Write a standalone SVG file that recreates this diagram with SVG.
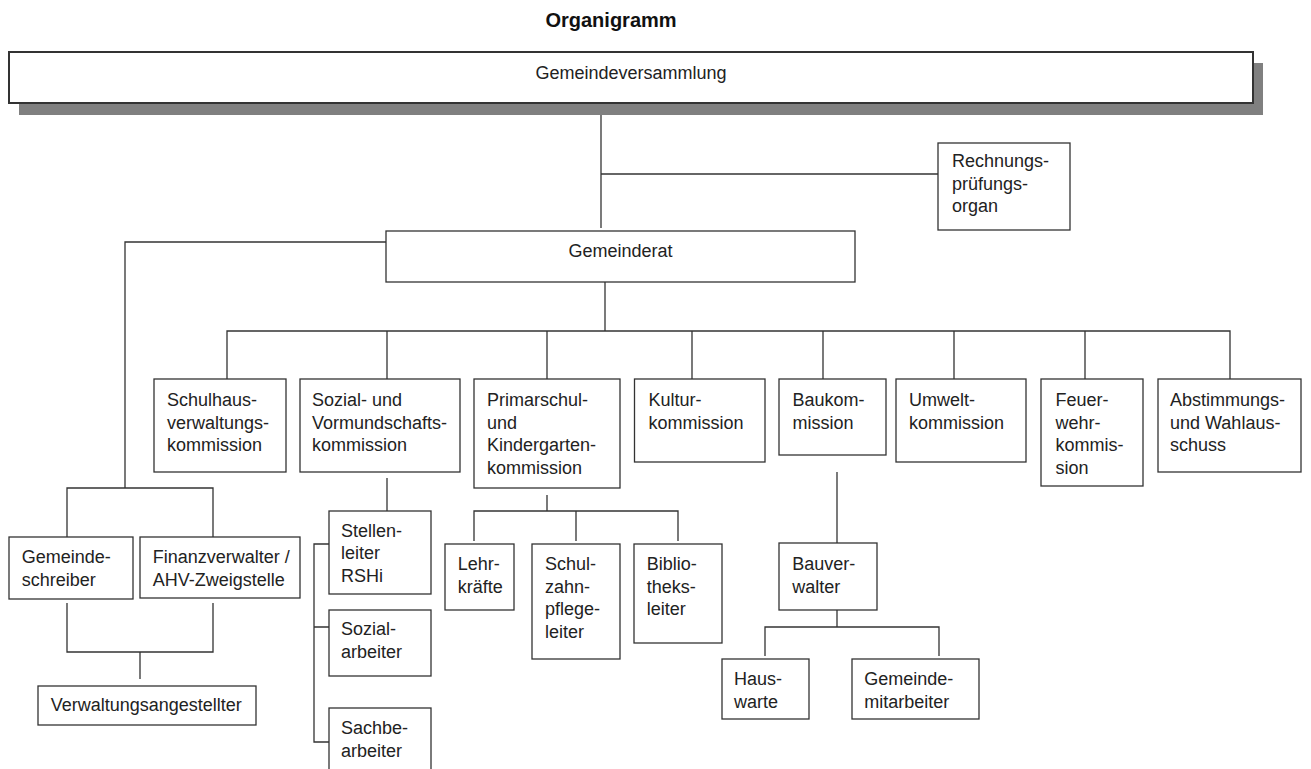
<svg xmlns="http://www.w3.org/2000/svg" width="1311" height="769" viewBox="0 0 1311 769">
<style>
.box{fill:#fff;stroke:#333;stroke-width:1.3}
.ln{fill:none;stroke:#333;stroke-width:1.3}
text{font-family:"Liberation Sans",Arial,sans-serif;font-size:18px;fill:#222}
.title{font-weight:bold;font-size:20px;fill:#111}
</style>
<rect width="1311" height="769" fill="#fff"/>
<text class="title" x="611" y="27" text-anchor="middle">Organigramm</text>
<g id="connectors">
<path class="ln" d="M601,103 V228"/>
<path class="ln" d="M601,174 H938"/>
<path class="ln" d="M386,242 H125 V488"/>
<path class="ln" d="M67,537 V488 H213 V537"/>
<path class="ln" d="M605,282 V331"/>
<path class="ln" d="M227,379 V331 H1230 V379"/>
<path class="ln" d="M387,331 V379 M547,331 V379 M692,331 V379 M823,331 V379 M954,331 V379 M1085,331 V379"/>
<path class="ln" d="M387,478 V511"/>
<path class="ln" d="M329,544 H314 V742 H329 M314,627 H329"/>
<path class="ln" d="M547,495 V511 M474,541 V511 H678 V541 M576,511 V541"/>
<path class="ln" d="M837,472 V543"/>
<path class="ln" d="M837,610 V627 M765,656 V627 H939 V656"/>
<path class="ln" d="M67,603 V652 H213 V603 M140,652 V679"/>
</g>
<g id="gemeindeversammlung">
<rect x="19" y="63" width="1244" height="52" fill="#808080"/>
<rect x="9" y="52" width="1244" height="51" fill="#fff" stroke="#333" stroke-width="2"/>
<text x="631" y="79" text-anchor="middle">Gemeindeversammlung</text>
</g>
<g id="rechnungspruefungsorgan">
<rect class="box" x="938" y="143" width="132" height="87"/>
<text x="952" y="167">Rechnungs-</text>
<text x="952" y="189.5">prüfungs-</text>
<text x="952" y="212">organ</text>
</g>
<g id="gemeinderat">
<rect class="box" x="386" y="231" width="469" height="51"/>
<text x="620.5" y="257" text-anchor="middle">Gemeinderat</text>
</g>
<g id="schulhaus">
<rect class="box" x="154" y="379" width="132" height="93"/>
<text x="167" y="406">Schulhaus-</text>
<text x="167" y="428.5">verwaltungs-</text>
<text x="167" y="451">kommission</text>
</g>
<g id="sozial">
<rect class="box" x="300" y="379" width="160" height="93"/>
<text x="312" y="406">Sozial- und</text>
<text x="312" y="428.5">Vormundschafts-</text>
<text x="312" y="451">kommission</text>
</g>
<g id="primarschul">
<rect class="box" x="474" y="379" width="146" height="109"/>
<text x="487" y="406">Primarschul-</text>
<text x="487" y="428.5">und</text>
<text x="487" y="451">Kindergarten-</text>
<text x="487" y="473.5">kommission</text>
</g>
<g id="kultur">
<rect class="box" x="634.5" y="379" width="130.5" height="83"/>
<text x="648.5" y="406">Kultur-</text>
<text x="648.5" y="428.5">kommission</text>
</g>
<g id="baukommission">
<rect class="box" x="779" y="379" width="107" height="76"/>
<text x="792.5" y="406">Baukom-</text>
<text x="792.5" y="428.5">mission</text>
</g>
<g id="umwelt">
<rect class="box" x="896" y="379" width="130" height="83"/>
<text x="909" y="406">Umwelt-</text>
<text x="909" y="428.5">kommission</text>
</g>
<g id="feuerwehr">
<rect class="box" x="1041" y="379" width="102" height="107"/>
<text x="1055.5" y="406">Feuer-</text>
<text x="1055.5" y="428.5">wehr-</text>
<text x="1055.5" y="451">kommis-</text>
<text x="1055.5" y="473.5">sion</text>
</g>
<g id="abstimmung">
<rect class="box" x="1158" y="379" width="143" height="93"/>
<text x="1170" y="406">Abstimmungs-</text>
<text x="1170" y="428.5">und Wahlaus-</text>
<text x="1170" y="451">schuss</text>
</g>
<g id="gemeindeschreiber">
<rect class="box" x="9" y="537" width="124" height="62"/>
<text x="21.7" y="563">Gemeinde-</text>
<text x="21.7" y="585.5">schreiber</text>
</g>
<g id="finanzverwalter">
<rect class="box" x="140" y="537" width="160" height="61"/>
<text x="152.7" y="563">Finanzverwalter /</text>
<text x="152.7" y="585.5">AHV-Zweigstelle</text>
</g>
<g id="verwaltungsangestellter">
<rect class="box" x="38" y="686" width="218" height="39"/>
<text x="50.7" y="711">Verwaltungsangestellter</text>
</g>
<g id="stellenleiter">
<rect class="box" x="329" y="511" width="102" height="83"/>
<text x="341" y="536.7">Stellen-</text>
<text x="341" y="559.2">leiter</text>
<text x="341" y="581.7">RSHi</text>
</g>
<g id="sozialarbeiter">
<rect class="box" x="329" y="610" width="102" height="66"/>
<text x="341" y="635">Sozial-</text>
<text x="341" y="657.5">arbeiter</text>
</g>
<g id="sachbearbeiter">
<rect class="box" x="329" y="708" width="102" height="70"/>
<text x="341" y="734">Sachbe-</text>
<text x="341" y="756.5">arbeiter</text>
</g>
<g id="lehrkraefte">
<rect class="box" x="445" y="544" width="69" height="66"/>
<text x="457.7" y="570">Lehr-</text>
<text x="457.7" y="592.5">kräfte</text>
</g>
<g id="schulzahnpflegeleiter">
<rect class="box" x="532" y="544" width="88" height="115"/>
<text x="545" y="570">Schul-</text>
<text x="545" y="592.5">zahn-</text>
<text x="545" y="615">pflege-</text>
<text x="545" y="637.5">leiter</text>
</g>
<g id="bibliotheksleiter">
<rect class="box" x="634" y="544" width="88" height="99"/>
<text x="646.7" y="570">Biblio-</text>
<text x="646.7" y="592.5">theks-</text>
<text x="646.7" y="615">leiter</text>
</g>
<g id="bauverwalter">
<rect class="box" x="779" y="543" width="98" height="67"/>
<text x="792.3" y="570">Bauver-</text>
<text x="792.3" y="592.5">walter</text>
</g>
<g id="hauswarte">
<rect class="box" x="722" y="659" width="87" height="60"/>
<text x="734" y="685">Haus-</text>
<text x="734" y="707.5">warte</text>
</g>
<g id="gemeindemitarbeiter">
<rect class="box" x="852" y="659" width="127" height="60"/>
<text x="864.3" y="685">Gemeinde-</text>
<text x="864.3" y="707.5">mitarbeiter</text>
</g>
</svg>
